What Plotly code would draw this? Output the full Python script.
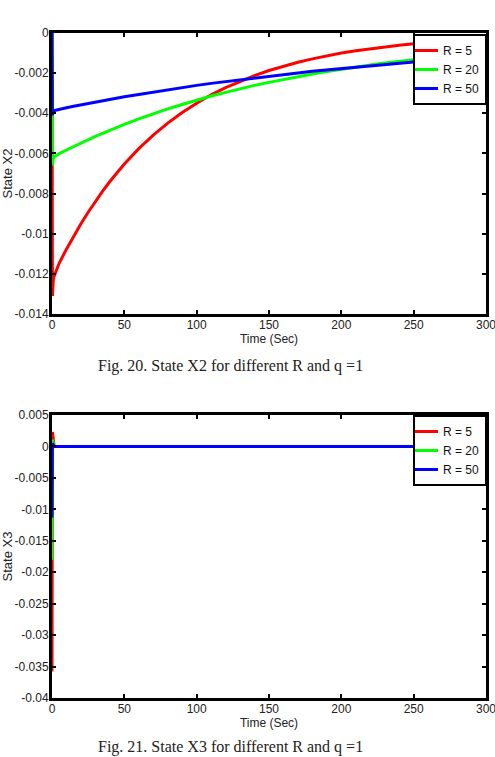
import plotly.graph_objects as go

# ---------------- data ----------------
t_x2 = [0, 0.3, 1, 5, 10, 15, 20, 25, 30, 35, 40, 45, 50,
        60, 70, 80, 90, 100, 110, 120, 130, 140, 150, 160, 170, 180, 190, 200,
        210, 220, 230, 240, 250, 260, 270, 280, 290, 300]
x2_r5 = [0, -0.0131, -0.0122,
         -0.01146, -0.01077, -0.01011, -0.00950, -0.00893, -0.00839, -0.00788, -0.00740, -0.00695, -0.00653,
         -0.00576, -0.00509, -0.00449, -0.00396, -0.00350, -0.00308, -0.00272, -0.00240, -0.00212, -0.00187,
         -0.00165, -0.00146, -0.00129, -0.00113, -0.00100, -0.00088, -0.00078, -0.00069, -0.00061, -0.00054,
         -0.00047, -0.00042, -0.00037, -0.00032, -0.00029]
x2_r20 = [0, -0.0066, -0.0062,
          -0.00601, -0.00583, -0.00565, -0.00548, -0.00531, -0.00515, -0.00500, -0.00484, -0.00470, -0.00455,
          -0.00428, -0.00402, -0.00378, -0.00356, -0.00334, -0.00314, -0.00296, -0.00278, -0.00261, -0.00246,
          -0.00231, -0.00217, -0.00204, -0.00192, -0.00180, -0.00170, -0.00159, -0.00150, -0.00141, -0.00133,
          -0.00124, -0.00117, -0.00110, -0.00104, -0.00097]
x2_r50 = [0, -0.0041, -0.00387,
          -0.00379, -0.00372, -0.00365, -0.00358, -0.00351, -0.00344, -0.00337, -0.00331, -0.00324, -0.00318,
          -0.00306, -0.00294, -0.00283, -0.00272, -0.00261, -0.00251, -0.00242, -0.00232, -0.00224, -0.00215,
          -0.00207, -0.00199, -0.00191, -0.00184, -0.00177, -0.00170, -0.00163, -0.00157, -0.00151, -0.00145,
          -0.00140, -0.00134, -0.00129, -0.00124, -0.00119]

t_x3 = [0, 0.3, 1.5, 300]
x3_r5 = [-0.0358, 0.0023, 0, 0]
x3_r20 = [-0.0180, 0.0011, 0, 0]
x3_r50 = [-0.0113, 0.0005, 0, 0]

labels = ["R = 5", "R = 20", "R = 50"]
colors = ["#ff0000", "#00ff00", "#0000ff"]
x_ticks = [0, 50, 100, 150, 200, 250, 300]
y2_ticks = [0, -0.002, -0.004, -0.006, -0.008, -0.01, -0.012, -0.014]
y2_text = ["0", "-0.002", "-0.004", "-0.006", "-0.008", "-0.01", "-0.012", "-0.014"]
y3_ticks = [0.005, 0, -0.005, -0.01, -0.015, -0.02, -0.025, -0.03, -0.035, -0.04]
y3_text = ["0.005", "0", "-0.005", "-0.01", "-0.015", "-0.02", "-0.025", "-0.03", "-0.035", "-0.04"]

W, H = 495, 757
SANS = "Liberation Sans, Arial"

fig = go.Figure()
for ys, lab, c in zip([x2_r5, x2_r20, x2_r50], labels, colors):
    fig.add_trace(go.Scatter(x=t_x2, y=ys, mode="lines", name=lab,
                             line=dict(color=c, width=3), xaxis="x", yaxis="y",
                             legend="legend"))
for ys, lab, c in zip([x3_r5, x3_r20, x3_r50], labels, colors):
    fig.add_trace(go.Scatter(x=t_x3, y=ys, mode="lines", name=lab,
                             line=dict(color=c, width=3), xaxis="x2", yaxis="y2",
                             legend="legend2"))

xd = [52 / W, 486 / W]
top_dom = [1 - 314 / H, 1 - 33 / H]
bot_dom = [1 - 698 / H, 1 - 415 / H]

axis_common = dict(showline=True, linecolor="black", linewidth=3, mirror="ticks",
                   ticks="inside", ticklen=4, tickwidth=2, tickcolor="black",
                   showgrid=False, zeroline=False, automargin=False,
                   ticklabeloverflow="allow",
                   tickfont=dict(family=SANS, size=12, color="#222"))
xt_font = dict(family=SANS, size=12, color="#222")
yt_font = dict(family=SANS, size=13, color="#222")

fig.update_layout(
    width=W, height=H, margin=dict(l=0, r=0, t=0, b=0),
    paper_bgcolor="white", plot_bgcolor="white",
    xaxis=dict(domain=xd, anchor="y", range=[0, 300], tickvals=x_ticks, ticklabelstandoff=-2,
               title=dict(text="Time (Sec)", font=xt_font, standoff=2), **axis_common),
    yaxis=dict(domain=top_dom, anchor="x", range=[-0.014, 0], tickvals=y2_ticks, ticktext=y2_text,
               ticklabelstandoff=-2,
               title=dict(text="State X2", font=yt_font, standoff=0), **axis_common),
    xaxis2=dict(domain=xd, anchor="y2", range=[0, 300], tickvals=x_ticks, ticklabelstandoff=-2,
                title=dict(text="Time (Sec)", font=xt_font, standoff=2), **axis_common),
    yaxis2=dict(domain=bot_dom, anchor="x2", range=[-0.04, 0.005], tickvals=y3_ticks, ticktext=y3_text,
                ticklabelstandoff=-2,
                title=dict(text="State X3", font=yt_font, standoff=0), **axis_common),
    legend=dict(x=487 / W, xanchor="right", y=1 - 34 / H, yanchor="top",
                bgcolor="white", bordercolor="black", borderwidth=2,
                font=dict(family=SANS, size=12, color="#111"), itemwidth=30,
                indentation=-12, tracegroupgap=0),
    legend2=dict(x=487 / W, xanchor="right", y=1 - 415 / H, yanchor="top",
                 bgcolor="white", bordercolor="black", borderwidth=2,
                 font=dict(family=SANS, size=12, color="#111"), itemwidth=30,
                 indentation=-12, tracegroupgap=0),
    showlegend=True,
)

fig.add_annotation(text="Fig. 20. State X2 for different R and q =1", xref="paper", yref="paper",
                   x=230 / W, y=1 - 366 / H, xanchor="center", yanchor="middle", showarrow=False,
                   font=dict(family="Liberation Serif, Times New Roman", size=16, color="#222"))
fig.add_annotation(text="Fig. 21. State X3 for different R and q =1", xref="paper", yref="paper",
                   x=230 / W, y=1 - 747 / H, xanchor="center", yanchor="middle", showarrow=False,
                   font=dict(family="Liberation Serif, Times New Roman", size=16, color="#222"))

fig.write_html("out.html")
